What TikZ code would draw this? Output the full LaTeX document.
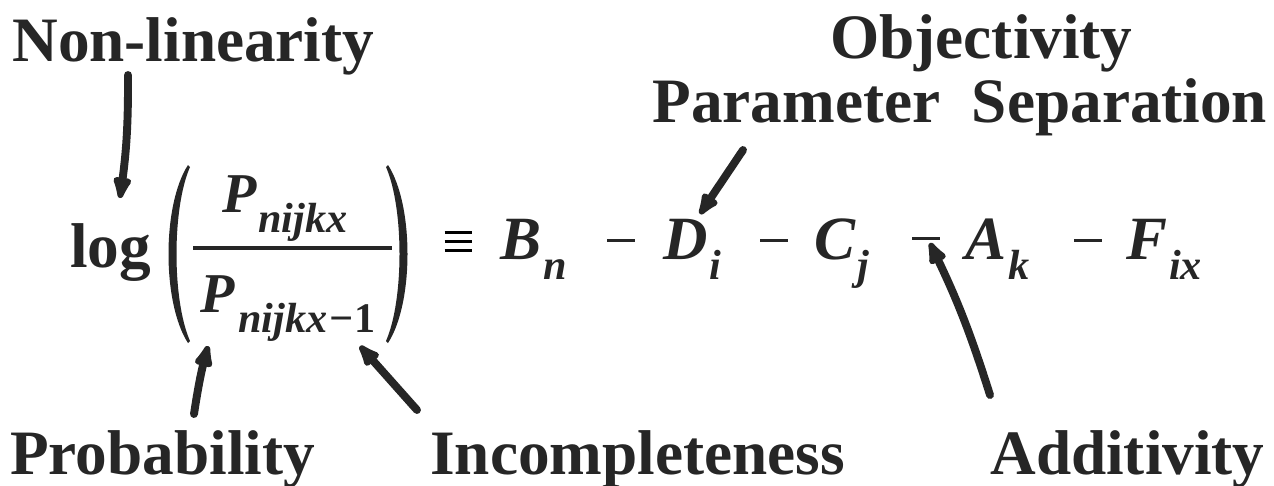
\documentclass[tikz,border=0pt]{standalone}
\usepackage{fontspec}
\setmainfont{Liberation Serif}
\usetikzlibrary{arrows.meta}
\definecolor{ink}{HTML}{262626}
\newcommand{\lo}[1]{\kern1pt\raisebox{-11.4pt}{\fontsize{24}{24}\selectfont #1}}
\newcommand{\eqvbars}{\vbox{\hrule width 0.54cm height 0.06cm \vskip 0.12cm
	\hrule width 0.54cm height 0.06cm \vskip 0.12cm \hrule width 0.54cm height 0.06cm}}
\begin{document}
\begin{tikzpicture}[x=0.02cm,y=-0.02cm,
	lbl/.style={font=\fontsize{36}{34}\selectfont\bfseries,text=ink,inner sep=0pt,anchor=base west},
	term/.style={font=\fontsize{35}{35}\selectfont\bfseries\itshape,text=ink,inner sep=0pt,anchor=base west},
	frac/.style={font=\fontsize{32}{32}\selectfont\bfseries\itshape,text=ink,inner sep=0pt,anchor=base west},
	minussign/.style={fill=ink,inner sep=0pt,minimum width=0.56cm,minimum height=0.06cm},
	hand/.style={ink,line width=4.5pt,line cap=round,-{Latex[length=0.6cm,width=0.44cm,round]}}]
	\useasboundingbox[fill=white] (0,0) rectangle (1274,485);
	% labels
	\node[lbl] (nonlin) at (12,61) {Non-linearity};
	\node[lbl] (object) at (830,58) {Objectivity};
	\node[lbl] (param) at (652,122) {Parameter\ \ Separation};
	\node[lbl] (prob) at (10,474) {Probability};
	\node[lbl] (incomp) at (430,474) {Incompleteness};
	\node[lbl] (addit) at (990,474) {Additivity};
	% the equation
	\node[lbl,font=\fontsize{36}{36}\selectfont\bfseries] (log) at (70,267) {log};
	\fill[ink] (188,165) .. controls (162,205) and (162,303) .. (188,343)
		-- (190,341) .. controls (172,300) and (172,208) .. (190,167) -- cycle;
	\fill[ink] (388,165) .. controls (414,205) and (414,303) .. (388,343)
		-- (386,341) .. controls (404,300) and (404,208) .. (386,167) -- cycle;
	\draw[ink,line width=2.4pt] (193,248) -- (392,248);
	\node[frac] (num) at (222,212) {P\lo{nijkx}};
	\node[frac] (den) at (200,312) {P\lo{\kern1pt nijkx\kern1pt−\upshape 1}};
	\node[inner sep=0pt] (eqv) at (458,241) {\eqvbars};
	\node[term] (b) at (500,259) {B\lo{n}};
	\node[minussign] (m1) at (621,240) {};
	\node[term] (d) at (663,259) {D\lo{i}};
	\node[minussign] (m2) at (774,240) {};
	\node[term] (c) at (814,259) {C\lo{j}};
	\node[minussign] (m3) at (926,238) {};
	\node[term] (a) at (965,259) {A\lo{k}};
	\node[minussign] (m4) at (1088,240) {};
	\node[term] (f) at (1126,259) {F\lo{ix}};
	% hand drawn arrows
	\coordinate (nltail) at (128,75);
	\coordinate (nltip) at (120,198);
	\coordinate (obtail) at (743,150);
	\coordinate (obtip) at (700,214);
	\coordinate (prtail) at (194,414);
	\coordinate (prtip) at (208,346);
	\coordinate (intail) at (417,410);
	\coordinate (intip) at (360,346);
	\coordinate (adtail) at (990,395);
	\coordinate (adtip) at (930,243);
	\draw[hand] (nltail) to[bend left=4] (nltip);
	\draw[hand] (obtail) -- (obtip);
	\draw[hand] (prtail) to[bend left=3] (prtip);
	\draw[hand] (intail) -- (intip);
	\draw[hand] (adtail) to[bend right=4] (adtip);
\end{tikzpicture}
\end{document}
